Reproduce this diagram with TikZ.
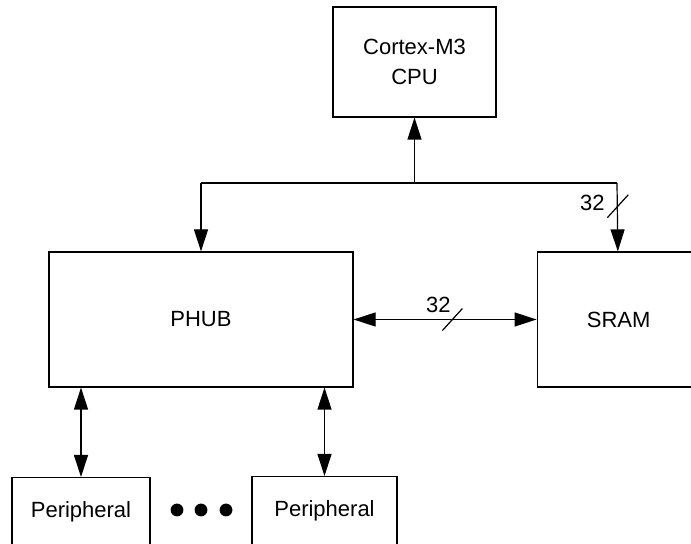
\documentclass[tikz,border=0pt]{standalone}
\usepackage{fontspec}
\setmainfont{Liberation Sans}
\usepackage{tikz}
\usetikzlibrary{arrows.meta,positioning}

\begin{document}
\begin{tikzpicture}[
  x=0.5pt, y=-0.5pt,
  >={Triangle[length=11pt,width=7pt]},
  box/.style={draw, line width=0.6pt, align=center, inner sep=0pt, font=\fontsize{11}{15}\selectfont},
  lbl/.style={inner sep=0pt, font=\fontsize{11}{13}\selectfont},
  arr/.style={->, line width=0.6pt},
  darr/.style={<->, line width=0.6pt},
  wire/.style={line width=0.6pt}
]
  \useasboundingbox (0,0) rectangle (691,544);

  \node[box, minimum width=81.5pt, minimum height=55pt] (cpu) at (414.5,62) {Cortex-M3\\CPU};
  \node[box, minimum width=152pt, minimum height=67.5pt] (phub) at (201,319.5) {PHUB};
  \node[box, minimum width=81.5pt, minimum height=67.5pt, right=91.5pt of phub] (sram) {SRAM};
  \node[box, minimum width=69pt, text height=20pt, text depth=20pt, anchor=north] (per1) at (81,477) {Peripheral};
  \node[box, minimum width=72.5pt, text height=20pt, text depth=20pt, anchor=north] (per2) at (324.5,476) {Peripheral};

  \coordinate (busL) at (201,183);
  \coordinate (busR) at (617,183);

  \draw[wire] (busL) -- (busR);
  \draw[arr] (cpu.south |- busL) -- (cpu.south);
  \draw[arr] (busL) -- (phub);
  \draw[arr] (busR) -- coordinate[pos=0.34] (w1) (sram);
  \draw[darr] (phub) -- coordinate[pos=0.54] (w2) (sram);
  \draw[darr] (phub.south -| per1.north) -- (per1.north);
  \draw[darr] (phub.south -| per2.north) -- (per2.north);

  \draw[wire] ([shift={(-10,11.5)}]w1) -- ([shift={(11,-11.5)}]w1);
  \node[lbl] (n1) at ([shift={(-25,-3.5)}]w1) {32};
  \draw[wire] ([shift={(-10,11)}]w2) -- ([shift={(10,-11)}]w2);
  \node[lbl] (n2) at ([shift={(-14,-15)}]w2) {32};

  \foreach \dx in {177,201,226}
    \fill (\dx,510) circle (3.2pt);
\end{tikzpicture}
\end{document}
